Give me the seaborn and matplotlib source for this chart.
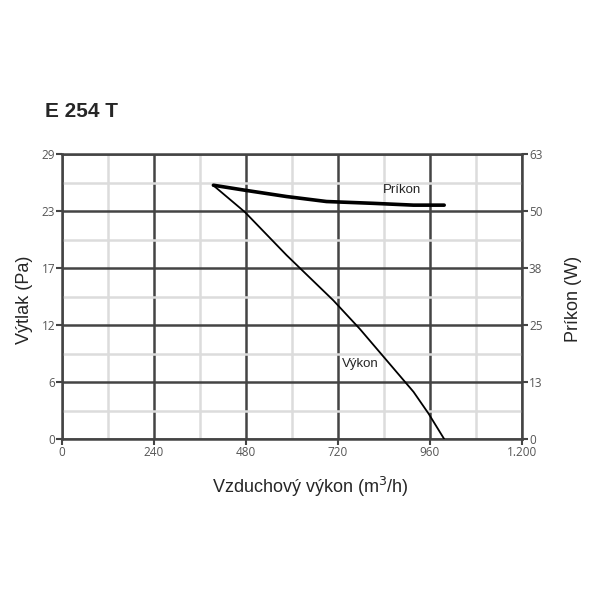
import numpy as np
import pandas as pd
import seaborn as sns
import matplotlib.pyplot as plt

# Values
vykon_flow = [395, 477, 586, 708, 777, 917, 956, 997]
vykon_pressure = [25.8, 23.1, 18.7, 14.1, 11.2, 4.8, 2.6, 0.0]

prikon_flow = [395, 477, 586, 690, 812, 917, 997]
prikon_power = [56.1, 55.0, 53.6, 52.5, 52.1, 51.7, 51.7]

x_ticks = [0, 240, 480, 720, 960, 1200]
x_labels = ["0", "240", "480", "720", "960", "1.200"]
y_labels_left = ["0", "6", "12", "17", "23", "29"]
y_labels_right = ["0", "13", "25", "38", "50", "63"]

sns.set_style("white")
plt.rcParams['font.family'] = ['Liberation Sans', 'DejaVu Sans']

dark = "#444444"
light = "#dcdcdc"
tick_col = "#555555"

fig = plt.figure(figsize=(6, 6), dpi=100)
ax = fig.add_axes([0.1033, 0.2683, 0.7667, 0.475])

ax.set_xlim(0, 1200)
ax.set_ylim(0, 29)
y_major = np.linspace(0, 29, 6)
y_minor = np.linspace(0, 29, 11)
ax.set_xticks(x_ticks)
ax.set_xticks(np.arange(0, 1201, 120), minor=True)
ax.set_yticks(y_major)
ax.set_yticks(y_minor, minor=True)
ax.set_xticklabels(x_labels, family="Open Sans")
ax.set_yticklabels(y_labels_left, family="Open Sans")

ax.grid(which="minor", color=light, lw=1.8, zorder=0)
ax.grid(which="major", color=dark, lw=1.8, zorder=1)
ax.set_axisbelow(True)
for s in ax.spines.values():
    s.set_color(dark)
    s.set_linewidth(1.8)
ax.tick_params(which="major", direction="out", length=4, width=1.5, color=dark,
               labelsize=8.5, labelcolor=tick_col, pad=1)
ax.tick_params(which="minor", length=0)
ax.tick_params(axis="x", which="major", length=4, bottom=True)
ax.tick_params(axis="y", which="major", left=True)

vyk = pd.DataFrame({"flow": vykon_flow, "p": vykon_pressure})
sns.lineplot(data=vyk, x="flow", y="p", ax=ax, color="black", lw=1.3, zorder=5)

ax2 = ax.twinx()
ax2.set_ylim(0, 63)
ax2.set_yticks(np.linspace(0, 63, 6))
ax2.set_yticklabels(y_labels_right, family="Open Sans")
ax2.tick_params(direction="out", length=4, width=1.5, color=dark,
                labelsize=8.5, labelcolor=tick_col, pad=1, right=True)
for s in ax2.spines.values():
    s.set_visible(False)
pri = pd.DataFrame({"flow": prikon_flow, "w": prikon_power})
sns.lineplot(data=pri, x="flow", y="w", ax=ax2, color="black", lw=2.6, zorder=5)

ax.set_xlabel("Vzduchový výkon (m$^3$/h)", fontsize=13)
ax.xaxis.set_label_coords(0.539, -0.125)
ax.set_ylabel("Výtlak (Pa)", fontsize=13)
ax.yaxis.set_label_coords(-0.062, 0.49)
ax2.set_ylabel("Príkon (W)", fontsize=13)
ax2.yaxis.set_label_coords(1.093, 0.49)

ax2.text(837, 55.0, "Príkon", fontsize=9.5, va="center")
ax.text(730, 7.6, "Výkon", fontsize=9.5, va="center")

fig.text(0.075, 0.805, "E 254 T", fontsize=15, fontweight="bold")

fig.savefig("out.png", dpi=100)
